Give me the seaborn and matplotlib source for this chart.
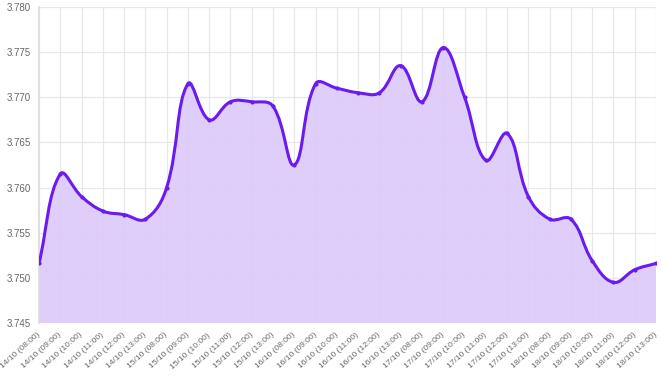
import numpy as np
import pandas as pd
import matplotlib
matplotlib.use('Agg')
import matplotlib.pyplot as plt
from matplotlib.path import Path
from matplotlib.patches import PathPatch
import seaborn as sns

# Data -------------------------------------------------------------------
days = ['14/10', '15/10', '16/10', '17/10', '18/10']
hours = ['08:00', '09:00', '10:00', '11:00', '12:00', '13:00']
labels = [f'{d} ({h})' for d in days for h in hours]

rate = [3.7516, 3.7615, 3.7590, 3.7574, 3.7570, 3.7565,
        3.7600, 3.7715, 3.7675, 3.7695, 3.7695, 3.7690,
        3.7625, 3.7715, 3.7710, 3.7705, 3.7705, 3.7735,
        3.7695, 3.7755, 3.7700, 3.7630, 3.7660, 3.7590,
        3.7565, 3.7565, 3.7519, 3.7495, 3.7509, 3.7516]

y_ticks = [3.745, 3.750, 3.755, 3.760, 3.765, 3.770, 3.775, 3.780]

df = pd.DataFrame({'label': labels, 'rate': rate})
df['idx'] = np.arange(len(df))

line_color = '#6a1bf0'
fill_color = '#dcc8fa'
grid_color = '#e6e6e6'
text_color = '#666666'

sns.set_style('white')
plt.rcParams['font.family'] = ['Liberation Sans', 'DejaVu Sans']

fig = plt.figure(figsize=(6.61, 3.76), dpi=100)
ax = fig.add_axes([0.059, 0.141, 0.9335, 0.8405])
ax.set_xlim(0, len(df) - 1)
ax.set_ylim(y_ticks[0], y_ticks[-1])


# bezier path through the points (tension like chart.js)
def smooth_path(x, y, tension=0.4, sx=21.3, sy=45.1 / 0.005):
    n = len(x)
    px = np.asarray(x, float) * sx
    py = np.asarray(y, float) * sy
    cin, cout = [], []
    for i in range(n):
        p0 = max(i - 1, 0)
        p2 = min(i + 1, n - 1)
        d01 = np.hypot(px[i] - px[p0], py[i] - py[p0])
        d12 = np.hypot(px[p2] - px[i], py[p2] - py[i])
        tot = d01 + d12
        s01 = d01 / tot if tot else 0
        s12 = d12 / tot if tot else 0
        fa, fb = tension * s01, tension * s12
        dx, dy = px[p2] - px[p0], py[p2] - py[p0]
        cin.append(((px[i] - fa * dx) / sx, (py[i] - fa * dy) / sy))
        cout.append(((px[i] + fb * dx) / sx, (py[i] + fb * dy) / sy))
    verts = [(x[0], y[0])]
    codes = [Path.MOVETO]
    for i in range(1, n):
        verts += [cout[i - 1], cin[i], (x[i], y[i])]
        codes += [Path.CURVE4] * 3
    return verts, codes


verts, codes = smooth_path(df['idx'].values, df['rate'].values)

# area fill
base = y_ticks[0]
fill_verts = verts + [(df['idx'].iloc[-1], base), (0, base), verts[0]]
fill_codes = codes + [Path.LINETO, Path.LINETO, Path.CLOSEPOLY]
ax.add_patch(PathPatch(Path(fill_verts, fill_codes), facecolor=fill_color,
                       edgecolor='none', alpha=0.9, zorder=1))
ax.add_patch(PathPatch(Path(verts, codes), facecolor='none',
                       edgecolor=line_color, linewidth=2.2, zorder=3,
                       capstyle='round', joinstyle='round'))

sns.scatterplot(data=df, x='idx', y='rate', ax=ax, color=line_color,
                s=9, edgecolor=line_color, linewidth=0, zorder=4, legend=False)

# grid & axes
ax.set_yticks(y_ticks)
ax.set_yticklabels([f'{v:.3f}' for v in y_ticks])
ax.set_xticks(df['idx'])
ax.set_xticklabels(df['label'], rotation=42, ha='right', va='center',
                   rotation_mode='anchor')
ax.grid(True, color=grid_color, linewidth=0.9, zorder=2)
for gl in ax.get_xgridlines() + ax.get_ygridlines():
    gl.set_zorder(2)
    gl.set_alpha(0.9)

for s in ['top', 'right', 'bottom']:
    ax.spines[s].set_visible(False)
ax.spines['left'].set_color('#dcdcdc')
ax.spines['left'].set_linewidth(1.2)

ax.tick_params(axis='y', length=4, color=grid_color, labelcolor=text_color,
               labelsize=7.0, pad=2)
ax.tick_params(axis='x', length=4, color=grid_color, labelcolor=text_color,
               labelsize=6.0, pad=4)
ax.set_xlabel('')
ax.set_ylabel('')

fig.savefig('out.png', dpi=100)
